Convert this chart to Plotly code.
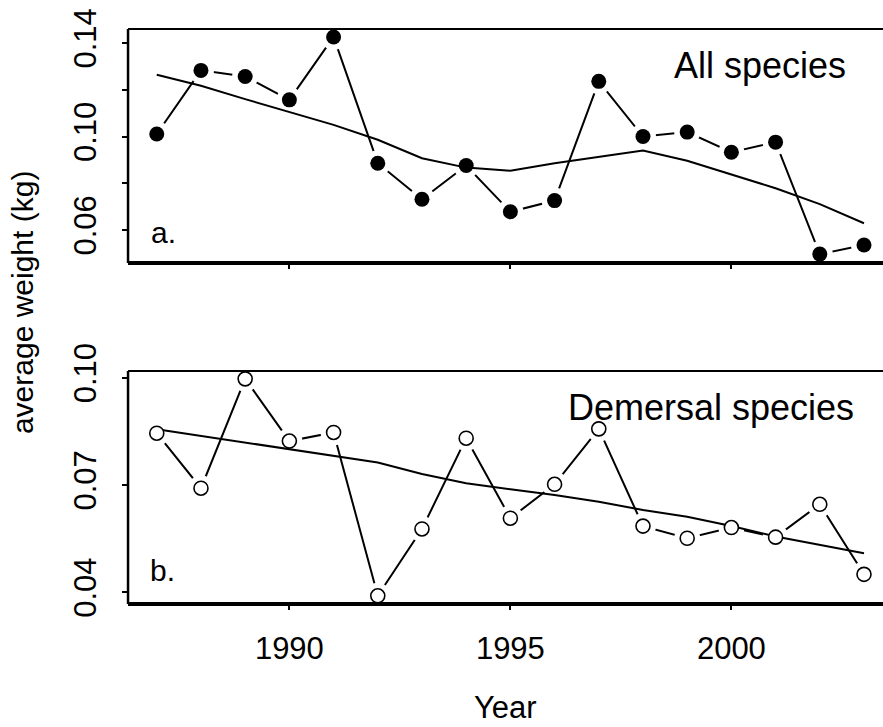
import plotly.graph_objects as go

# Annual average weight of individual fish caught (kg), 1987-2003
years = [1987, 1988, 1989, 1990, 1991, 1992, 1993, 1994, 1995,
         1996, 1997, 1998, 1999, 2000, 2001, 2002, 2003]

all_species = [0.1011, 0.1283, 0.1257, 0.1157, 0.1426, 0.0886, 0.0732, 0.0876, 0.0678,
               0.0726, 0.1236, 0.1000, 0.1019, 0.0933, 0.0976, 0.0497, 0.0536]
all_trend = [0.1264, 0.1217, 0.1160, 0.1104, 0.1050, 0.0986, 0.0907, 0.0867, 0.0854,
             0.0886, 0.0914, 0.0940, 0.0896, 0.0839, 0.0779, 0.0711, 0.0629]

demersal = [0.0845, 0.0691, 0.0997, 0.0823, 0.0847, 0.0390, 0.0577, 0.0831, 0.0607,
            0.0702, 0.0857, 0.0585, 0.0551, 0.0581, 0.0554, 0.0646, 0.0450]
dem_trend = [0.0856, 0.0837, 0.0818, 0.0801, 0.0782, 0.0763, 0.0731, 0.0705, 0.0688,
             0.0672, 0.0653, 0.0630, 0.0611, 0.0585, 0.0556, 0.0532, 0.0509]

x_ticks = [1990, 1995, 2000]
top_ticks = [0.06, 0.08, 0.10, 0.12, 0.14]
top_tick_text = ["0.06", "", "0.10", "", "0.14"]
bot_ticks = [0.04, 0.07, 0.10]
bot_tick_text = ["0.04", "0.07", "0.10"]

FONT = "Arial, Liberation Sans, sans-serif"
BLACK = "#000000"

fig = go.Figure()


def add_panel(y, trend, xa, ya, filled):
    # connecting segments (gaps around the points come from a white halo)
    fig.add_trace(go.Scatter(x=years, y=y, mode="lines", xaxis=xa, yaxis=ya,
                             line=dict(color=BLACK, width=2), hoverinfo="skip"))
    fig.add_trace(go.Scatter(x=years, y=y, mode="markers", xaxis=xa, yaxis=ya,
                             marker=dict(size=26, color="white", line=dict(width=0)),
                             hoverinfo="skip"))
    # fitted trend
    fig.add_trace(go.Scatter(x=years, y=trend, mode="lines", xaxis=xa, yaxis=ya,
                             line=dict(color=BLACK, width=2), hoverinfo="skip"))
    # observed points
    if filled:
        mk = dict(size=15, color=BLACK, line=dict(width=0))
    else:
        mk = dict(size=14, color="white", line=dict(width=1.6, color=BLACK))
    fig.add_trace(go.Scatter(x=years, y=y, mode="markers", xaxis=xa, yaxis=ya,
                             marker=mk, cliponaxis=False))


add_panel(all_species, all_trend, "x", "y", True)
add_panel(demersal, dem_trend, "x2", "y2", False)

x_range = [1986.35, 2003.43]
x_dom = [0.145, 1.0]
top_dom = [1 - 263 / 727, 1 - 29 / 727]
bot_dom = [1 - 604 / 727, 1 - 371 / 727]

axis_common = dict(showgrid=False, zeroline=False, showline=False, ticks="outside",
                   ticklen=5, tickwidth=1.5, tickcolor=BLACK, automargin=False,
                   tickfont=dict(family=FONT, size=31, color=BLACK))

fig.update_layout(
    width=883, height=727,
    margin=dict(l=0, r=0, t=0, b=0, autoexpand=False),
    paper_bgcolor="white", plot_bgcolor="white",
    showlegend=False,
    xaxis=dict(domain=x_dom, range=x_range, anchor="y", tickvals=x_ticks,
               showticklabels=False, **axis_common),
    yaxis=dict(domain=top_dom, range=[0.0459, 0.146], anchor="x", tickvals=top_ticks,
               ticktext=top_tick_text, tickangle=-90, ticklabelstandoff=14, **axis_common),
    xaxis2=dict(domain=x_dom, range=x_range, anchor="y2", tickvals=x_ticks,
                ticktext=[str(v) for v in x_ticks], ticklabelstandoff=12, **axis_common),
    yaxis2=dict(domain=bot_dom, range=[0.0367, 0.1019], anchor="x2", tickvals=bot_ticks,
                ticktext=bot_tick_text, tickangle=-90, ticklabelstandoff=14, **axis_common),
)

# panel frames: left, top and a heavier bottom rule
for xr, yr in (("x domain", "y domain"), ("x2 domain", "y2 domain")):
    fig.add_shape(type="line", xref=xr, yref=yr, x0=0, x1=0, y0=0, y1=1,
                  line=dict(color=BLACK, width=2.5))
    fig.add_shape(type="line", xref=xr, yref=yr, x0=0, x1=1, y0=1, y1=1,
                  line=dict(color=BLACK, width=2))
    fig.add_shape(type="line", xref=xr, yref=yr, x0=0, x1=1, y0=0, y1=0,
                  line=dict(color=BLACK, width=4))

txt = dict(family=FONT, color=BLACK)
fig.add_annotation(text="All species", xref="x domain", yref="y domain", x=0.7205, y=0.846,
                   xanchor="left", yanchor="middle", showarrow=False, font=dict(size=36, **txt))
fig.add_annotation(text="Demersal species", xref="x2 domain", yref="y2 domain", x=0.580,
                   y=0.845, xanchor="left", yanchor="middle", showarrow=False,
                   font=dict(size=36, **txt))
fig.add_annotation(text="a.", xref="x domain", yref="y domain", x=0.028, y=0.132,
                   xanchor="left", yanchor="middle", showarrow=False, font=dict(size=30, **txt))
fig.add_annotation(text="b.", xref="x2 domain", yref="y2 domain", x=0.026, y=0.142,
                   xanchor="left", yanchor="middle", showarrow=False, font=dict(size=30, **txt))
fig.add_annotation(text="average weight (kg)", xref="paper", yref="paper", x=0.025,
                   y=1 - 303 / 727, xanchor="center", yanchor="middle", textangle=-90,
                   showarrow=False, font=dict(size=30, **txt))
fig.add_annotation(text="Year", xref="paper", yref="paper", x=505 / 883, y=0.0,
                   xanchor="center", yanchor="bottom", showarrow=False,
                   font=dict(size=31, **txt))

fig.write_html("out.html")
